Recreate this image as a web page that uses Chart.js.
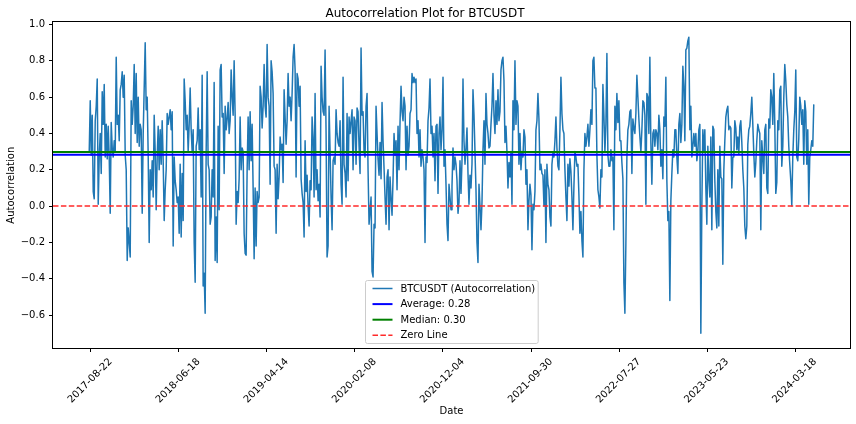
<!DOCTYPE html>
<html>
<head>
<meta charset="utf-8">
<title>Autocorrelation Plot for BTCUSDT</title>
<script src="https://cdn.jsdelivr.net/npm/chart.js@4.4.1/dist/chart.umd.min.js"></script>
<style>
  html, body { margin: 0; padding: 0; background: #fff; }
  #wrap { width: 856px; height: 424px; }
</style>
</head>
<body>
<div id="wrap"><canvas id="acfChart" width="856" height="424"></canvas></div>
<script>
/* ---------- DATA ---------- */
const symbol = "BTCUSDT";
const firstDate = "2017-08-17";
const lastDate = "2024-05-20";

// rolling autocorrelation (evenly spaced from firstDate to lastDate)
const acfValues = [
  // 2017-08 .. 2017-12
  0.30, 0.58, 0.28, 0.50, 0.08, 0.04, 0.47, 0.55, 0.70, 0.01, 0.27, 0.40, 0.18, 0.63, 0.45, 0.67,
  0.27, 0.45, 0.26, 0.44, 0.27, -0.04, 0.46, 0.32, 0.27, 0.36, 0.30, 0.82, 0.45, 0.50, 0.36, 0.64, 0.67,
  0.74, 0.60, 0.72, 0.28, 0.20, -0.30, -0.12, -0.20, -0.28, 0.58, 0.45, 0.55, 0.78, 0.40, 0.73, 0.35,
  0.60, 0.33, 0.45, 0.42, -0.04, 0.40, 0.65, 0.90, 0.53, 0.60, 0.28, -0.20, 0.20, 0.09, 0.25, 0.05, 0.50, 0.30,
  // 2018
  -0.02, 0.27, 0.44, 0.20, 0.42, 0.23, 0.47, 0.25, -0.08, 0.09, 0.20, 0.51, 0.45, 0.49, 0.53, 0.42, 0.52,
  -0.22, 0.27, 0.14, 0.09, 0.02, 0.05, -0.15, 0.23, -0.17, 0.18, -0.08, 0.70, 0.58, 0.42, 0.50, 0.30, 0.45,
  0.65, 0.42, 0.30, 0.42, -0.20, -0.42, 0.33, 0.36, 0.54, 0.31, 0.42, 0.05, 0.72, -0.44, -0.37, -0.59, 0.30,
  0.74, 0.23, 0.20, -0.10, -0.06, 0.20, 0.05, 0.68, -0.30, -0.06, -0.31, 0.44, -0.02, 0.75, 0.78, 0.49, 0.51,
  0.18, 0.55, 0.42, 0.48, 0.57, 0.40, 0.47, 0.75, 0.60, 0.50, 0.80, 0.50, -0.10, 0.08, 0.02, 0.15, 0.49,
  0.20, 0.32, 0.30, -0.15, -0.26, -0.27, 0.20, 0.49, 0.20, 0.52, 0.25, 0.45, 0.10, -0.29, 0.10, -0.22, 0.08,
  0.02, 0.05, 0.66, 0.60, 0.43, 0.55, 0.78, 0.55, 0.49, 0.89, 0.60, 0.55, 0.12, 0.80, 0.74, 0.62, 0.22,
  0.20, -0.15, 0.23, 0.04, 0.16, 0.38, 0.31, 0.34, 0.13, 0.64, 0.49, 0.34, 0.47, 0.73, 0.55, 0.60, 0.47,
  // 2019
  0.62, 0.82, 0.89, 0.75, 0.16, 0.73, 0.70, 0.55, 0.66, 0.15, 0.07, 0.02, -0.17, 0.36, 0.08, 0.17, 0.00,
  -0.11, 0.14, 0.09, 0.49, 0.38, 0.05, 0.62, 0.09, 0.20, 0.03, 0.12, -0.06, 0.77, 0.60, 0.52, 0.50, 0.86,
  0.40, -0.28, -0.22, 0.55, 0.30, 0.05, -0.13, 0.25, 0.27, 0.23, 0.53, 0.40, 0.35, 0.33, 0.47, 0.12, 0.01,
  0.71, 0.23, 0.18, 0.05, 0.51, 0.14, 0.49, 0.40, 0.47, 0.53, 0.20, 0.49, 0.47, 0.23, 0.54, 0.52, 0.33,
  // 2020
  0.18, 0.87, 0.50, 0.52, 0.30, 0.27, 0.55, 0.62, 0.20, -0.10, -0.03, 0.05, -0.36, -0.39, -0.10, -0.12, 0.55,
  0.40, 0.26, 0.17, 0.35, 0.15, 0.57, 0.36, 0.21, 0.05, -0.10, 0.16, 0.20, -0.13, 0.16, 0.04, -0.05, 0.15,
  0.40, 0.28, 0.36, 0.09, 0.44, 0.20, 0.46, 0.66, 0.52, 0.47, 0.60, 0.55, 0.20, 0.44, 0.28, 0.33, 0.51,
  0.53, 0.73, 0.68, 0.71, 0.68, 0.70, 0.40, 0.47, 0.27, 0.42, 0.22, 0.31, 0.27, 0.20, -0.20, 0.27, 0.24,
  0.47, 0.54, 0.70, 0.40, 0.44, 0.27, 0.40, 0.14, 0.44, 0.45, 0.07, 0.40, 0.49, 0.31, 0.42, 0.71, 0.22,
  0.31, 0.12, -0.10, -0.19, 0.12, 0.05, -0.02, 0.11, 0.32, 0.20, 0.27, 0.23, 0.14, -0.04, 0.02, 0.25, 0.07,
  // 2021
  0.25, 0.70, 0.36, 0.23, 0.32, 0.43, 0.18, 0.01, 0.17, 0.10, 0.23, 0.64, 0.50, 0.30, 0.09, -0.20, -0.31,
  0.12, -0.00, -0.13, 0.02, 0.31, 0.47, 0.23, 0.62, 0.45, 0.40, 0.32, 0.33, 0.45, 0.55, 0.73, 0.50, 0.40,
  0.58, 0.45, 0.64, 0.47, 0.52, 0.75, 0.80, 0.82, 0.69, 0.35, 0.44, 0.30, 0.10, 0.24, 0.16, 0.30, 0.01,
  0.58, 0.42, 0.80, 0.45, 0.58, 0.55, 0.23, 0.40, 0.20, 0.30, 0.27, 0.42, 0.38, 0.12, 0.20, -0.13, 0.03,
  // 2022
  0.12, 0.06, -0.24, 0.01, -0.02, 0.08, 0.42, 0.47, 0.62, 0.48, 0.20, 0.23, 0.18, 0.17, -0.00, 0.20, -0.20,
  0.23, 0.12, 0.09, -0.06, -0.11, 0.23, 0.29, 0.27, 0.36, 0.49, 0.32, 0.22, 0.20, 0.42, 0.71, 0.51, 0.42,
  0.40, 0.20, 0.05, -0.08, 0.23, 0.11, 0.26, 0.19, 0.05, -0.13, 0.11, 0.30, 0.27, 0.22, 0.23, 0.06, -0.15,
  -0.03, -0.19, -0.28, 0.20, 0.40, 0.33, 0.38, 0.45, 0.33, 0.42, 0.53, 0.45, 0.80, 0.82, 0.65, 0.65, 0.28,
  0.09, 0.05, -0.01, 0.20, 0.16, 0.67, 0.50, 0.30, 0.45, 0.84, 0.28, 0.22, 0.22, 0.31, 0.25, 0.27, -0.13,
  0.55, 0.42, 0.62, 0.46, 0.58, 0.36, 0.36, 0.24, 0.15, -0.42, -0.59, -0.20, 0.27, 0.42, 0.45, 0.52, 0.53,
  // 2023
  0.18, 0.48, 0.43, 0.40, 0.51, 0.72, 0.60, 0.48, 0.38, 0.30, 0.42, 0.58, 0.57, 0.50, 0.01, 0.62, 0.60,
  0.40, 0.82, 0.35, 0.12, 0.40, 0.42, 0.33, 0.42, 0.40, 0.31, 0.50, 0.42, 0.22, 0.31, 0.15, 0.49, 0.44,
  0.71, 0.14, -0.08, -0.03, -0.52, 0.03, 0.18, 0.31, 0.27, 0.42, 0.42, 0.27, 0.18, 0.45, 0.51, 0.35, 0.45,
  0.77, 0.66, 0.36, 0.86, 0.87, 0.91, 0.93, 0.42, 0.55, 0.27, 0.33, 0.40, 0.33, 0.40, 0.25, 0.30, 0.42,
  0.45, -0.70, 0.00, 0.42, 0.30, 0.42, 0.10, -0.10, 0.33, 0.15, 0.05, 0.38, -0.13, 0.44, 0.42, 0.14, -0.03,
  -0.12, 0.20, -0.11, 0.33, 0.16, 0.15, -0.32, 0.20, 0.36, 0.49, 0.53, 0.55, 0.42, 0.44, 0.43, 0.10, 0.27,
  // 2024
  0.27, 0.47, 0.43, 0.31, 0.38, 0.29, 0.44, 0.47, 0.35, 0.20, 0.10, -0.11, -0.18, -0.11, 0.34, 0.42, 0.44,
  0.51, 0.60, 0.45, 0.29, 0.16, 0.24, 0.36, 0.45, 0.42, 0.40, -0.13, 0.36, 0.27, 0.18, 0.42, 0.45, 0.10,
  0.07, 0.48, 0.43, 0.64, 0.60, 0.45, 0.73, 0.45, 0.07, 0.13, 0.47, 0.42, 0.64, 0.66, 0.22, 0.33, 0.60,
  0.78, 0.69, 0.56, 0.49, 0.33, 0.23, 0.14, -0.00, 0.27, 0.42, 0.52, 0.75, 0.27, 0.25, 0.37, 0.60, 0.55,
  0.45, 0.53, 0.23, 0.58, 0.52, 0.23, 0.42, 0.01, 0.27, 0.31, 0.36, 0.33, 0.56
];

const averageValue = 0.283;
const medianValue = 0.298;
const zeroValue = 0;

const xTickDates = ["2017-08-22", "2018-06-18", "2019-04-14", "2020-02-08", "2020-12-04",
                    "2021-09-30", "2022-07-27", "2023-05-23", "2024-03-18"];
const yTickValues = [-0.6, -0.4, -0.2, 0.0, 0.2, 0.4, 0.6, 0.8, 1.0];

/* ---------- HELPERS ---------- */
const DAY = 86400000;
function dayOf(d) {
    return (Date.parse(d) - Date.parse(firstDate)) / DAY;
}
function fmtTick(v) {
    return (Math.round(v * 10) / 10).toFixed(1).replace("-", "\u2212");
}

const span = dayOf(lastDate);
const xMin = -0.05 * span;
const xMax = span * 1.05;
const lo = Math.min(...acfValues);
const hi = Math.max(...acfValues);
const yMin = lo - 0.05 * (hi - lo);
const yMax = hi + 0.05 * (hi - lo);

const seriesPoints = acfValues.map((v, i) => ({ x: i * span / (acfValues.length - 1), y: v }));
const hline = v => [{ x: xMin, y: v }, { x: xMax, y: v }];

/* ---------- FRAME + LEGEND ---------- */
const framePlugin = {
    id: "frameAndLegend",
    afterDatasetsDraw(chart) {
        const { ctx, chartArea: a } = chart;
        ctx.save();
        ctx.strokeStyle = "#000";
        ctx.lineWidth = 1;
        ctx.strokeRect(Math.round(a.left) - 0.5, Math.round(a.top) - 0.5,
                       Math.round(a.right - a.left) + 1, Math.round(a.bottom - a.top) + 1);
        ctx.restore();
    },
    afterDraw(chart) {
        const { ctx, chartArea: a } = chart;
        const sets = chart.data.datasets;
        ctx.save();
        ctx.font = '10px "DejaVu Sans"';
        const textW = Math.max(...sets.map(d => ctx.measureText(d.label).width));
        const w = 7 + 20 + 8 + textW + 3;
        const h = 63;
        const left = Math.round((a.left + a.right) / 2 - w / 2) + 0.5;
        const top = Math.round(a.bottom - 5 - h) + 0.5;

        ctx.beginPath();
        ctx.roundRect(left, top, w, h, 2);
        ctx.fillStyle = "rgba(255,255,255,0.8)";
        ctx.fill();
        ctx.strokeStyle = "#cccccc";
        ctx.lineWidth = 1;
        ctx.stroke();

        sets.forEach((d, i) => {
            const cy = top + 8 + i * 15.6;
            ctx.beginPath();
            ctx.setLineDash(d.borderDash || []);
            ctx.strokeStyle = d.borderColor;
            ctx.lineWidth = d.borderWidth;
            ctx.moveTo(left + 7, cy);
            ctx.lineTo(left + 27, cy);
            ctx.stroke();
            ctx.setLineDash([]);
            ctx.fillStyle = "#000";
            ctx.textBaseline = "middle";
            ctx.textAlign = "left";
            ctx.fillText(d.label, left + 35, cy + 0.5);
        });
        ctx.restore();
    }
};

/* ---------- CHART ---------- */
Chart.defaults.font.family = '"DejaVu Sans", sans-serif';
Chart.defaults.font.size = 10;
Chart.defaults.color = "#000";

const tickGrid = {
    display: true,
    drawOnChartArea: false,
    drawTicks: true,
    tickLength: 4,
    tickColor: "#000",
    tickWidth: 1
};

new Chart(document.getElementById("acfChart"), {
    type: "line",
    data: {
        datasets: [
            {
                label: `${symbol} (Autocorrelation)`,
                data: seriesPoints,
                borderColor: "#1f77b4",
                borderWidth: 1.5,
                borderJoinStyle: "round",
                pointRadius: 0,
                tension: 0,
                order: 4
            },
            {
                label: `Average: ${averageValue.toFixed(2)}`,
                data: hline(averageValue),
                borderColor: "#0000ff",
                borderWidth: 2,
                pointRadius: 0,
                order: 3
            },
            {
                label: `Median: ${medianValue.toFixed(2)}`,
                data: hline(medianValue),
                borderColor: "#008000",
                borderWidth: 2,
                pointRadius: 0,
                order: 2
            },
            {
                label: "Zero Line",
                data: hline(zeroValue),
                borderColor: "#ff2a2a",
                borderWidth: 1.5,
                borderDash: [5.5, 2.4],
                pointRadius: 0,
                order: 1
            }
        ]
    },
    options: {
        responsive: false,
        animation: false,
        devicePixelRatio: 1,
        parsing: false,
        layout: { padding: { left: 0, right: 6, top: 0, bottom: 0 } },
        plugins: {
            legend: { display: false },
            tooltip: { enabled: false },
            title: {
                display: true,
                text: `Autocorrelation Plot for ${symbol}`,
                color: "#000",
                font: { size: 12, weight: "normal" },
                padding: { top: 7, bottom: 1 }
            }
        },
        scales: {
            x: {
                type: "linear",
                min: xMin,
                max: xMax,
                afterFit(s) { s.height = 76; s.paddingLeft = 0; s.paddingRight = 0; },
                afterBuildTicks(s) { s.ticks = xTickDates.map(d => ({ value: dayOf(d) })); },
                ticks: {
                    autoSkip: false,
                    minRotation: 45,
                    maxRotation: 45,
                    labelOffset: 20,
                    padding: 4,
                    callback: (v, i) => xTickDates[i]
                },
                grid: tickGrid,
                border: { display: false },
                title: { display: true, text: "Date", padding: { top: 0, bottom: 7 } }
            },
            y: {
                type: "linear",
                min: yMin,
                max: yMax,
                afterFit(s) { s.width = 53; s.paddingTop = 0; s.paddingBottom = 0; },
                afterBuildTicks(s) { s.ticks = yTickValues.map(v => ({ value: v })); },
                ticks: { padding: 4, callback: v => fmtTick(v) },
                grid: tickGrid,
                border: { display: false },
                title: { display: true, text: "Autocorrelation", padding: { top: 5, bottom: 0 } }
            }
        }
    },
    plugins: [framePlugin]
});
</script>
</body>
</html>
